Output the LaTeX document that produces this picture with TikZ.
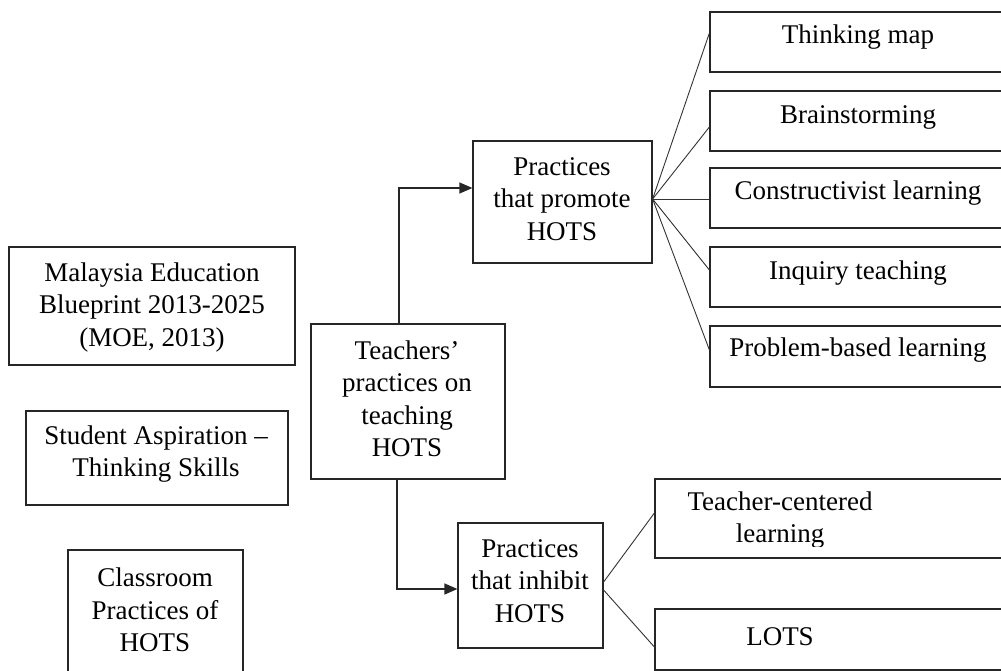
\documentclass[tikz,border=0pt]{standalone}
\usepackage{fontspec}
\setmainfont{Liberation Serif}
\usetikzlibrary{arrows.meta}
\begin{document}
\begin{tikzpicture}[x=1pt,y=-1pt,
  box/.style={draw=black!85,line width=1.2pt,rectangle,inner sep=0pt},
  txt/.style={inner sep=0pt,align=center,font=\fontsize{27}{32.5}\selectfont},
  link/.style={draw=black!85,line width=1.2pt},
  arr/.style={link,-{Triangle[length=13pt,width=11pt]}},
  fan/.style={draw=black!80,line width=0.9pt}]
\useasboundingbox (0,0) rectangle (1001,671);
\clip (0,0) rectangle (1001,671);

% left column
\node[box,minimum width=286pt,minimum height=118pt] (mal) at (152,306) {};
\node[txt] (malt) at (152,307.5) {Malaysia Education\\Blueprint 2013-2025\\(MOE, 2013)};
\node[box,minimum width=262pt,minimum height=94pt] (stu) at (157,458) {};
\node[txt] (stut) at (156,454) {Student Aspiration –\\Thinking Skills};
\node[box,minimum width=175pt,minimum height=150pt] (cls) at (155.5,625) {};
\node[txt] (clst) at (155,610) {Classroom\\Practices of\\HOTS};

% centre
\node[box,minimum width=194pt,minimum height=155pt] (tea) at (408,401.5) {};
\node[txt] (teat) at (407,399) {Teachers’\\practices on\\teaching\\HOTS};
\node[box,minimum width=179pt,minimum height=122pt] (pro) at (562.5,202) {};
\node[txt] (prot) at (562,199) {Practices\\that promote\\HOTS};
\node[box,minimum width=145pt,minimum height=125pt] (inh) at (530.5,585.5) {};
\node[txt] (inht) at (530,581) {Practices\\that inhibit\\HOTS};

% practices that promote (boxes run past the right edge)
\node[box,minimum width=320pt,minimum height=60pt] (tm) at (870,42) {};
\node[txt] (tmt) at (858,37) {Thinking map};
\node[box,minimum width=320pt,minimum height=60pt] (bs) at (870,121) {};
\node[txt] (bst) at (858,117) {Brainstorming};
\node[box,minimum width=320pt,minimum height=60pt] (cl) at (870,198) {};
\node[txt] (clt) at (858,193) {Constructivist learning};
\node[box,minimum width=320pt,minimum height=60pt] (iq) at (870,277) {};
\node[txt] (iqt) at (858,273) {Inquiry teaching};
\node[box,minimum width=320pt,minimum height=61pt] (pb) at (870,356.5) {};
\node[txt] (pbt) at (858,350) {Problem-based learning};

% practices that inhibit
\node[box,minimum width=370pt,minimum height=79pt] (tc) at (840,518.5) {};
\begin{scope}
  \clip (655,479) rectangle (1001,546);
  \node[txt] (tct) at (780,520) {Teacher-centered\\learning};
\end{scope}
\node[box,minimum width=370pt,minimum height=61pt] (lo) at (840,639.5) {};
\node[txt] (lot) at (780,637) {LOTS};

% arrows from the central box
\draw[arr] ([xshift=-9pt]tea.north) |- ([yshift=14pt]pro.west);
\draw[arr] ([xshift=-11pt]tea.south) |- ([yshift=-3.5pt]inh.west);

% fan-out lines
\coordinate (pf) at ([yshift=3pt]pro.east);
\draw[fan] (pf) -- ([yshift=9pt]tm.west);
\draw[fan] (pf) -- ([yshift=-6pt]bs.west);
\draw[fan] (pf) -- ([yshift=-1pt]cl.west);
\draw[fan] (pf) -- ([yshift=7pt]iq.west);
\draw[fan] (pf) -- ([yshift=6.5pt]pb.west);
\draw[fan] ([yshift=3.5pt]inh.east) -- ([yshift=5.5pt]tc.west);
\draw[fan] ([yshift=-4.5pt]inh.east) -- ([yshift=-7.5pt]lo.west);
\end{tikzpicture}
\end{document}
